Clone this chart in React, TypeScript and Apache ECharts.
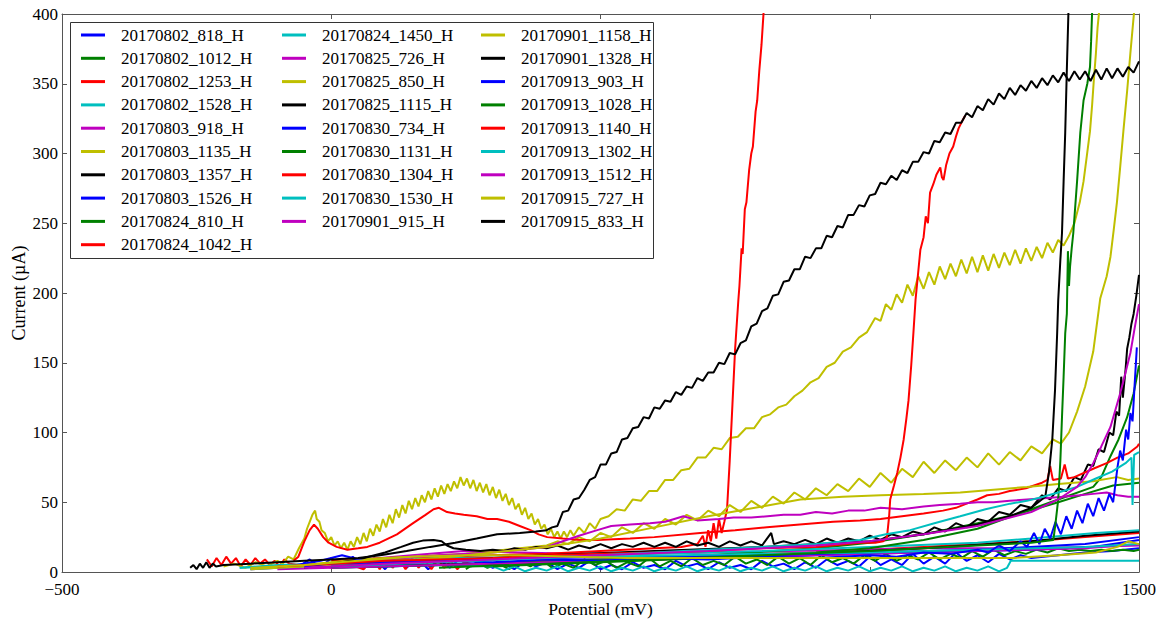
import React, { useEffect, useRef } from "react";
import * as echarts from "echarts";

const seriesNames = [
  "20170802_818_H", "20170802_1012_H", "20170802_1253_H", "20170802_1528_H",
  "20170803_918_H", "20170803_1135_H", "20170803_1357_H", "20170803_1526_H",
  "20170824_810_H", "20170824_1042_H", "20170824_1450_H", "20170825_726_H",
  "20170825_850_H", "20170825_1115_H", "20170830_734_H", "20170830_1131_H",
  "20170830_1304_H", "20170830_1530_H", "20170901_915_H", "20170901_1158_H",
  "20170901_1328_H", "20170913_903_H", "20170913_1028_H", "20170913_1140_H",
  "20170913_1302_H", "20170913_1512_H", "20170915_727_H", "20170915_833_H",
];

const cycleColors = ["#0000ff", "#008000", "#ff0000", "#00bfbf", "#bf00bf", "#bfbf00", "#000000"];

const xTicks = [-500, 0, 500, 1000, 1500];
const yTicks = [0, 50, 100, 150, 200, 250, 300, 350, 400];

// [potential mV, current µA]
const d818 = [[-60,4],[-40,9],[-20,3],[0,10],[20,4],[40,11],[60,3],[80,10],[100,2],[120,11],[140,3],[160,10],[180,2],[200,9],[220,3],[240,10],[260,4],[280,8],[300,3],[320,6],[340,2],[360,8],[380,4],[400,7],[420,2],[440,6],[460,3],[480,8],[500,2],[520,5],[540,2],[560,7],[580,3],[600,5],[620,2],[640,8],[660,4],[680,6],[700,2],[720,7],[740,3],[760,5],[780,2],[800,8],[820,4],[840,6],[860,2],[880,7],[900,3],[920,9],[940,5],[960,8],[980,4],[1000,11],[1020,5],[1040,9],[1060,5],[1080,13],[1100,6],[1120,11],[1140,6],[1160,14],[1180,8],[1200,12],[1220,7],[1240,13],[1260,9],[1280,12],[1300,10],[1350,12],[1400,14],[1450,15],[1500,17]];
const d1012 = [[250,2],[270,7],[290,3],[310,6],[330,2],[350,7],[370,4],[390,9],[410,3],[430,6],[450,3],[470,9],[490,5],[510,8],[530,3],[550,7],[570,4],[590,10],[610,4],[630,8],[650,4],[670,10],[690,5],[710,8],[730,5],[750,11],[770,6],[790,9],[810,5],[830,11],[850,6],[870,10],[890,5],[910,12],[930,7],[950,10],[970,6],[990,12],[1010,8],[1030,13],[1050,8],[1070,12],[1090,9],[1110,14],[1130,9],[1150,13],[1170,10],[1190,15],[1210,11],[1230,16],[1250,12],[1270,15],[1290,13],[1310,16],[1330,14],[1350,17],[1370,15],[1390,16],[1410,15],[1430,16],[1450,15],[1470,16],[1490,15],[1500,16]];
const d1253 = [[-231,9],[-222,4],[-213,10],[-204,5],[-195,11],[-186,6],[-177,10],[-168,4],[-159,9],[-150,5],[-141,10],[-132,6],[-123,9],[-114,5],[-105,8],[-96,4],[-87,9],[-78,6],[-60,5],[-40,4],[-20,5],[0,3],[30,6],[60,2],[78,9],[90,2],[102,10],[114,3],[126,9],[138,2],[150,10],[162,3],[174,8],[186,2],[198,9],[210,3],[222,8],[234,2],[246,7],[270,5],[300,6],[350,7],[400,8],[500,9],[600,10],[700,12],[800,13],[900,14],[1000,16],[1100,18],[1200,20],[1300,22],[1400,25],[1500,28]];
const d1528 = [[-170,3],[-100,4],[0,5],[100,4],[200,5],[300,4],[320,1],[340,4],[360,0.5],[380,3],[400,1],[420,4],[440,0.5],[460,3],[480,1],[500,4],[520,0.5],[540,3],[560,1],[580,4],[600,0.5],[620,3],[640,1],[660,4],[680,0.5],[700,3],[720,1],[740,4],[760,0.5],[780,3],[800,1],[820,4],[840,0.5],[860,3],[880,1],[900,4],[920,0.5],[940,3],[960,1],[980,4],[1000,0.5],[1020,3],[1040,1],[1060,4],[1080,0.5],[1100,3],[1120,1],[1140,4],[1160,0.5],[1180,3],[1200,1],[1220,4],[1240,0.5],[1255,3],[1262,8],[1280,8],[1500,8]];
const d0803_918 = [[-150,2],[-50,4],[0,6],[60,9],[150,12],[246,15],[350,14],[450,13],[550,13],[700,14],[850,15],[982,16],[1100,17],[1250,17],[1400,18],[1500,19]];
const d1135 = [[-200,4],[-180,6],[-160,3],[-140,7],[-120,4],[-100,8],[-90,6],[-80,11],[-70,9],[-60,17],[-50,24],[-45,31],[-40,36],[-35,41],[-30,44],[-27,38],[-22,36],[-18,30],[-12,28],[-6,22],[0,25],[6,19],[12,22],[18,17],[24,21],[30,16],[36,22],[42,18],[48,25],[54,20],[60,28],[66,22],[72,31],[78,26],[84,34],[90,29],[96,38],[102,32],[108,41],[114,35],[120,45],[126,39],[132,48],[138,42],[144,51],[150,45],[156,53],[162,47],[168,55],[174,50],[180,58],[186,52],[192,60],[198,54],[204,62],[210,56],[216,63],[222,58],[228,65],[234,60],[240,68],[246,62],[252,67],[258,60],[264,66],[270,58],[276,64],[282,57],[288,63],[294,55],[300,61],[306,53],[312,59],[318,51],[324,56],[330,48],[336,53],[342,45],[348,49],[354,41],[360,46],[366,38],[372,42],[378,34],[384,38],[390,31],[396,34],[402,27],[408,31],[414,25],[420,29],[426,24],[432,29],[438,25],[444,30],[450,26],[460,32],[470,28],[480,35],[490,31],[500,38],[515,40],[530,45],[545,44],[560,52],[575,51],[590,58],[605,58],[620,66],[635,66],[650,73],[665,74],[680,82],[695,82],[710,89],[725,88],[740,96],[755,97],[770,103],[785,103],[800,111],[815,113],[830,118],[845,120],[860,126],[875,130],[890,136],[905,139],[920,147],[935,150],[950,158],[965,161],[980,168],[995,172],[1010,182],[1020,180],[1030,192],[1040,188],[1050,199],[1060,193],[1070,206],[1080,198],[1090,212],[1100,203],[1110,215],[1120,206],[1130,219],[1140,210],[1150,221],[1160,212],[1170,224],[1180,214],[1190,226],[1200,215],[1210,227],[1220,216],[1230,228],[1240,218],[1250,229],[1260,220],[1270,231],[1280,221],[1290,232],[1300,223],[1310,233],[1320,225],[1330,236],[1340,229],[1350,238],[1360,234],[1370,241],[1380,250],[1390,265],[1397,280],[1403,298],[1409,316],[1413,335],[1416,352],[1420,372],[1423,390],[1426,402]];
const d1357 = [[100,5],[300,6],[500,8],[700,10],[900,13],[1100,17],[1300,22],[1400,26],[1500,29]];
const d1526 = [[0,3],[500,8],[1000,13],[1300,16],[1415,18],[1500,23]];
const d810 = [[0,3],[300,6],[500,9],[700,12],[900,17],[1000,21],[1100,27],[1200,35],[1280,42],[1350,50],[1400,56],[1452,62],[1500,64]];
const d1042 = [[0,8],[50,9],[100,10],[200,11],[300,12],[400,13],[500,15],[600,17],[650,18],[680,20],[690,26],[695,18],[700,30],[705,22],[710,35],[715,24],[720,38],[725,28],[730,36],[735,45],[740,80],[745,120],[750,160],[756,195],[758,205],[762,232],[764,228],[768,260],[771,265],[776,288],[780,300],[783,305],[788,330],[791,338],[795,360],[799,378],[803,402]];
const d1450 = [[-170,3],[-100,5],[0,6],[100,8],[300,10],[500,12],[800,15],[1000,18],[1200,21],[1300,24],[1420,28],[1500,30]];
const d726 = [[-100,2],[0,3],[200,5],[400,7],[600,9],[800,11],[1000,13],[1200,15],[1400,17],[1500,20]];
const d850 = [[-50,5],[0,7],[50,9],[100,10],[150,11],[200,12],[250,13],[300,15],[350,17],[400,19],[420,22],[440,20],[460,25],[480,22],[500,28],[520,25],[540,32],[560,28],[580,35],[600,31],[620,38],[640,34],[660,41],[680,37],[700,44],[720,40],[740,48],[760,43],[780,51],[800,46],[820,54],[840,49],[860,57],[880,52],[900,60],[920,55],[940,63],[960,58],[980,67],[1000,61],[1020,71],[1040,64],[1060,74],[1080,68],[1100,79],[1120,71],[1140,80],[1160,73],[1180,82],[1200,75],[1220,85],[1240,77],[1260,86],[1280,80],[1300,90],[1320,85],[1340,95],[1355,92],[1370,100],[1385,115],[1400,133],[1415,158],[1428,196],[1440,212],[1447,226],[1453,245],[1459,265],[1465,290],[1471,316],[1478,345],[1484,372],[1491,402]];
const d1115 = [[-50,3],[0,6],[50,9],[100,14],[130,18],[152,21],[170,22.5],[190,23],[205,22],[215,19],[227,17],[250,16],[277,15],[300,16],[320,15],[340,17],[360,16],[380,18],[400,17],[420,19],[440,16],[460,19],[480,17],[500,20],[520,17],[540,20],[560,18],[580,21],[600,18],[620,21],[640,18],[660,22],[680,19],[700,21],[720,18],[740,22],[760,19],[780,22],[800,19],[817,28],[822,20],[840,22],[860,20],[880,23],[900,20],[920,24],[940,21],[960,24],[980,22],[1000,26],[1020,23],[1040,27],[1060,25],[1080,29],[1100,27],[1120,32],[1140,29],[1160,35],[1180,32],[1200,38],[1220,36],[1240,43],[1260,41],[1280,48],[1300,46],[1320,55],[1335,52],[1350,60],[1365,58],[1380,68],[1392,66],[1405,77],[1415,76],[1425,88],[1435,86],[1445,100],[1452,98],[1458,115],[1463,112],[1467,140],[1470,125],[1475,145],[1478,160],[1482,168],[1486,178],[1490,185],[1495,198],[1500,213]];
const d734 = [[-80,4],[-20,8],[0,10],[20,12],[40,10],[60,8],[100,7],[200,8],[400,10],[600,11],[800,12],[1000,14],[1200,16],[1400,20],[1500,25]];
const d1131 = [[300,4],[500,7],[700,10],[900,14],[1000,17],[1100,23],[1200,31],[1292,44],[1350,52],[1415,61],[1430,68],[1447,83],[1462,95],[1478,111],[1490,128],[1500,148]];
const d1304 = [[-70,8],[-61,11],[-50,22],[-40,30],[-32,34],[-25,31],[-15,25],[-5,21],[10,18],[30,16],[50,17],[67,18],[90,21],[122,27],[152,35],[175,41],[190,45],[200,46],[215,43],[230,42],[246,41],[270,40],[290,38],[308,38],[330,36],[350,33],[370,30],[385,27],[401,25],[430,24],[462,23],[494,23],[555,24],[600,25],[685,28],[750,30],[809,32],[870,34],[932,36],[982,37],[1020,38],[1060,40],[1100,42],[1136,44],[1160,46],[1180,49],[1200,52],[1218,55],[1240,56],[1260,58],[1290,60],[1320,64],[1330,66],[1335,76],[1340,66],[1355,67],[1362,77],[1368,67],[1380,68],[1415,74],[1440,78],[1460,82],[1480,85],[1497,90],[1500,92]];
const d1530 = [[-150,2],[0,5],[100,8],[200,10],[500,11],[800,13],[1000,14],[1200,16],[1400,18],[1500,20]];
const d915 = [[-100,3],[0,6],[100,9],[200,12],[300,14],[350,16],[401,18],[430,22],[460,26],[494,30],[520,33],[555,34],[592,35],[620,36],[654,40],[680,37],[720,38],[747,39],[780,39],[810,40],[840,41],[871,41],[900,43],[930,42],[960,44],[990,44],[1020,46],[1060,45],[1100,47],[1130,48],[1168,49],[1200,50],[1230,50],[1260,51],[1292,52],[1330,53],[1360,54],[1390,55],[1415,56],[1440,57],[1460,55],[1480,54],[1500,54]];
const d1158 = [[-150,2],[0,5],[200,10],[400,18],[500,24],[600,32],[700,40],[800,47],[871,52],[950,54],[1020,55],[1100,56],[1168,57],[1230,59],[1292,61],[1350,63],[1415,65],[1459,68],[1480,66],[1500,67]];
const d1328 = [[0,4],[200,8],[400,12],[600,15],[800,18],[1000,22],[1100,27],[1200,34],[1260,40],[1300,46],[1326,54],[1333,72],[1339,95],[1344,130],[1348,171],[1350,195],[1354,224],[1357,243],[1360,280],[1363,315],[1366,360],[1369,402]];
const d903 = [[-50,4],[0,6],[100,7],[200,8],[300,7],[400,9],[500,8],[600,10],[700,9],[800,11],[900,10],[1000,12],[1050,11],[1100,14],[1150,13],[1200,16],[1220,14],[1240,19],[1260,15],[1280,22],[1292,18],[1305,28],[1315,20],[1325,31],[1335,24],[1345,36],[1355,27],[1365,40],[1375,31],[1385,44],[1395,35],[1405,49],[1415,40],[1425,53],[1435,44],[1445,56],[1452,50],[1460,75],[1465,87],[1470,80],[1476,102],[1480,95],[1484,114],[1488,108],[1492,135],[1496,161]];
const d1028 = [[200,3],[400,6],[600,9],[800,12],[1000,15],[1200,19],[1300,21],[1341,23],[1345,35],[1350,52],[1354,80],[1357,111],[1360,140],[1363,171],[1366,185],[1368,230],[1370,205],[1372,219],[1375,232],[1378,243],[1385,280],[1391,315],[1397,338],[1404,350],[1409,362],[1411,380],[1413,402]];
const d1140 = [[-100,4],[0,6],[100,8],[200,9],[300,10],[400,12],[500,13],[600,14],[700,15],[800,17],[900,18],[982,21],[1010,21],[1025,22],[1032,25],[1036,40],[1038,52],[1045,62],[1051,71],[1057,82],[1063,95],[1068,110],[1072,123],[1077,148],[1081,171],[1085,195],[1090,215],[1094,231],[1100,240],[1104,255],[1108,250],[1112,272],[1118,278],[1124,285],[1131,290],[1134,283],[1137,281],[1142,292],[1148,300],[1155,305],[1160,312],[1165,318],[1170,322],[1177,327]];
const d1302 = [[0,4],[200,7],[400,10],[600,14],[800,18],[900,20],[982,23],[1030,27],[1075,30],[1120,35],[1168,40],[1215,45],[1261,49],[1292,51],[1322,54],[1350,57],[1385,61],[1420,67],[1450,72],[1475,78],[1486,82],[1488,48],[1491,84],[1500,86]];
const d1512 = [[-50,3],[100,6],[300,9],[500,12],[700,15],[900,19],[1000,22],[1100,27],[1200,33],[1300,43],[1350,52],[1385,61],[1400,68],[1415,78],[1430,90],[1447,104],[1456,116],[1465,128],[1475,143],[1484,157],[1492,175],[1500,192]];
const d727 = [[-150,3],[-50,5],[50,8],[150,11],[250,12],[350,12],[450,11],[550,10],[700,10],[850,10],[1000,10],[1150,10],[1266,10],[1350,12],[1420,14],[1460,18],[1480,22],[1500,20]];
const d833 = [[-262,3],[-256,5],[-250,2],[-244,6],[-238,3],[-232,7],[-226,3],[-220,6],[-214,4],[-200,5],[-150,6],[-100,7],[-50,8],[0,9],[50,10],[91,12],[140,15],[184,18],[230,21],[270,24],[308,27],[350,28],[380,29],[400,30],[410,32],[420,33],[430,43],[440,44],[450,52],[460,53],[470,59],[480,66],[490,68],[500,77],[510,77],[520,85],[530,86],[540,95],[550,96],[560,103],[570,104],[580,111],[590,110],[600,118],[610,117],[620,123],[630,122],[640,129],[650,127],[660,133],[670,132],[680,139],[690,137],[700,143],[710,143],[720,150],[730,149],[740,157],[750,156],[760,164],[770,166],[780,176],[790,178],[800,187],[810,189],[820,198],[830,199],[840,208],[850,209],[860,217],[870,217],[880,226],[890,225],[900,232],[910,232],[920,241],[930,240],[940,248],[950,247],[960,256],[970,256],[980,263],[990,262],[1000,270],[1010,271],[1020,279],[1030,278],[1040,284],[1050,281],[1060,288],[1070,286],[1080,294],[1090,294],[1100,301],[1110,300],[1120,309],[1130,308],[1140,315],[1150,314],[1160,322],[1170,322],[1180,329],[1190,326],[1200,334],[1210,331],[1220,339],[1230,335],[1240,343],[1250,339],[1260,347],[1270,342],[1280,349],[1290,345],[1300,352],[1310,347],[1320,354],[1330,349],[1340,356],[1350,351],[1360,358],[1370,352],[1380,359],[1390,353],[1400,359],[1410,352],[1420,360],[1430,353],[1440,361],[1450,354],[1460,361],[1470,355],[1480,362],[1490,358],[1500,366]];

const seriesData = [
  d818, d1012, d1253, d1528, d0803_918, d1135, d1357, d1526, d810, d1042,
  d1450, d726, d850, d1115, d734, d1131, d1304, d1530, d915, d1158,
  d1328, d903, d1028, d1140, d1302, d1512, d727, d833,
];

const FONT = "'Liberation Serif', 'DejaVu Serif', serif";

export default function App() {
  const ref = useRef<HTMLDivElement>(null);
  useEffect(() => {
    if (!ref.current) return;
    const chart = echarts.init(ref.current, null, { renderer: "svg" });
    const fmt = (v: number) => (v < 0 ? "\u2212" + Math.abs(v) : String(v));
    const axisLine = { show: true, onZero: false, lineStyle: { color: "#555", width: 1 } };
    const tick = { show: true, inside: true, length: 5, lineStyle: { color: "#555" } };
    const legendCol = (start: number, end: number, left: number) => ({
      orient: "vertical",
      left,
      top: 26.5,
      padding: 0,
      itemWidth: 24,
      itemHeight: 3,
      itemGap: 6.3,
      icon: "rect",
      selectedMode: false,
      data: seriesNames.slice(start, end),
      textStyle: {
        fontFamily: FONT,
        fontSize: 17,
        lineHeight: 17,
        color: "#000",
        padding: [0, 0, 0, 11],
      },
    });
    chart.setOption({
      animation: false,
      textStyle: { fontFamily: FONT },
      grid: { left: 62, top: 14, width: 1077, height: 558, containLabel: false, outerBoundsMode: "none" },
      graphic: [
        {
          type: "rect",
          shape: { x: 70.5, y: 22.5, width: 583, height: 236 },
          style: { fill: "#fff", stroke: "#333", lineWidth: 1 },
          z: 3,
        },
      ],
      legend: [legendCol(0, 10, 81), legendCol(10, 19, 282), legendCol(19, 28, 481)],
      xAxis: [
        {
          type: "value",
          position: "bottom",
          min: xTicks[0],
          max: xTicks[xTicks.length - 1],
          interval: 500,
          axisLine,
          axisTick: tick,
          splitLine: { show: false },
          axisLabel: { fontFamily: FONT, fontSize: 17, lineHeight: 17, color: "#000", margin: 9, formatter: fmt },
          name: "Potential (mV)",
          nameLocation: "middle",
          nameGap: 28,
          nameMoveOverlap: false,
          nameTextStyle: { fontFamily: FONT, fontSize: 17.5, lineHeight: 17, color: "#000" },
        },
        {
          type: "value",
          position: "top",
          min: xTicks[0],
          max: xTicks[xTicks.length - 1],
          interval: 500,
          axisLine,
          axisTick: tick,
          splitLine: { show: false },
          axisLabel: { show: false },
        },
      ],
      yAxis: [
        {
          type: "value",
          position: "left",
          min: yTicks[0],
          max: yTicks[yTicks.length - 1],
          interval: 50,
          axisLine,
          axisTick: tick,
          splitLine: { show: false },
          axisLabel: { fontFamily: FONT, fontSize: 17, lineHeight: 13, color: "#000", margin: 4 },
          name: "Current (\u00b5A)",
          nameLocation: "middle",
          nameGap: 34,
          nameMoveOverlap: false,
          nameTextStyle: { fontFamily: FONT, fontSize: 18, color: "#000" },
        },
        {
          type: "value",
          position: "right",
          min: yTicks[0],
          max: yTicks[yTicks.length - 1],
          interval: 50,
          axisLine,
          axisTick: tick,
          splitLine: { show: false },
          axisLabel: { show: false },
        },
      ],
      series: seriesNames.map((name, i) => ({
        name,
        type: "line",
        data: seriesData[i],
        xAxisIndex: 0,
        yAxisIndex: 0,
        showSymbol: false,
        symbol: "none",
        clip: true,
        color: cycleColors[i % cycleColors.length],
        lineStyle: { width: 2, color: cycleColors[i % cycleColors.length] },
        z: 2,
      })),
    });
    return () => chart.dispose();
  }, []);
  return (
    <div
      ref={ref}
      style={{ position: "fixed", left: 0, top: 0, width: 1166, height: 619, background: "#fff" }}
    />
  );
}
